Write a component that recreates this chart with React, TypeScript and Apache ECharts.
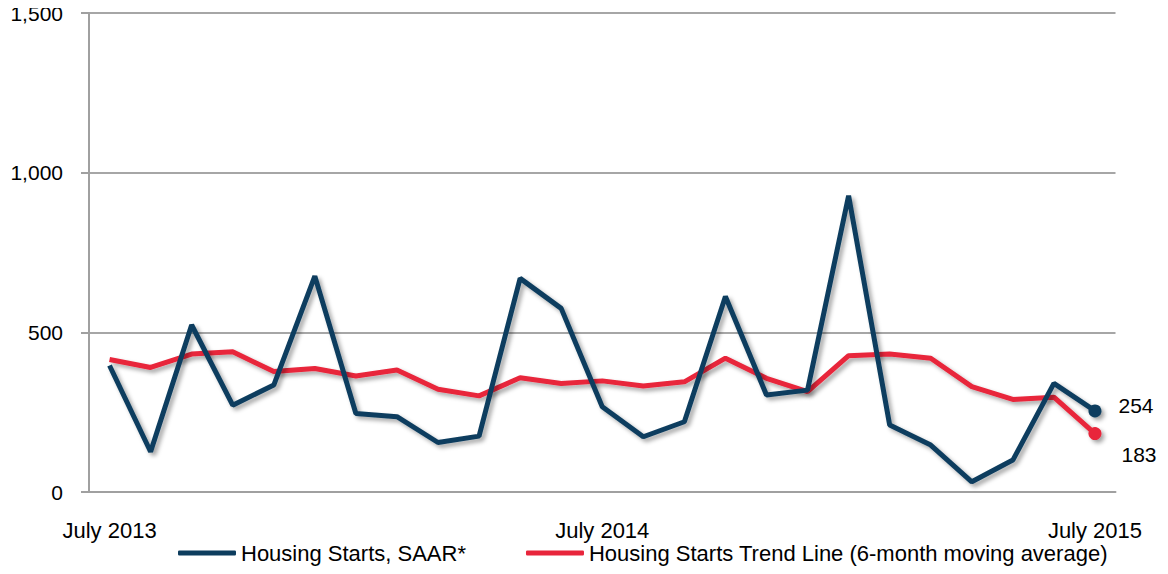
import React, { useEffect, useRef } from "react";
import * as echarts from "echarts";

const months = [
  "July 2013", "August 2013", "September 2013", "October 2013", "November 2013", "December 2013",
  "January 2014", "February 2014", "March 2014", "April 2014", "May 2014", "June 2014",
  "July 2014", "August 2014", "September 2014", "October 2014", "November 2014", "December 2014",
  "January 2015", "February 2015", "March 2015", "April 2015", "May 2015", "June 2015",
  "July 2015",
];

const housingStarts = [
  396, 126, 523, 272, 335, 676, 246, 236, 155, 175, 669, 575,
  267, 173, 220, 612, 304, 319, 928, 210, 147, 32, 100, 340, 254,
];

const trendLine = [
  415, 390, 432, 439, 377, 387, 363, 382, 322, 301, 358, 340,
  348, 332, 345, 419, 356, 314, 427, 432, 419, 330, 290, 297, 183,
];

const yTicks = [0, 500, 1000, 1500];

const BLUE = "#0D3D5E";
const RED = "#E8253B";
const FONT = "'Liberation Sans', Arial, sans-serif";

function withEndPoint(values: number[], color: string, offset: number[]) {
  return values.map((v, i) =>
    i === values.length - 1
      ? {
          value: v,
          symbol: "circle",
          symbolSize: 13,
          itemStyle: { color },
          label: {
            show: true,
            position: "right",
            distance: 17,
            offset,
            formatter: "{c}",
            color: "#000",
            fontSize: 21,
            fontFamily: FONT,
          },
        }
      : v
  );
}

export default function App() {
  const ref = useRef<HTMLDivElement>(null);

  useEffect(() => {
    if (!ref.current) return;
    const chart = echarts.init(ref.current, undefined, { renderer: "svg" });
    const shadow = {
      shadowColor: "rgba(0,0,0,0.35)",
      shadowBlur: 4,
      shadowOffsetX: 3,
      shadowOffsetY: 3,
    };
    chart.setOption({
      animation: false,
      backgroundColor: "#fff",
      textStyle: { fontFamily: FONT },
      grid: { left: 89, right: 52.5, top: 13, bottom: 82, containLabel: false },
      legend: {
        left: 173,
        top: 537,
        padding: 5,
        itemWidth: 58,
        itemHeight: 5,
        itemGap: 60,
        icon: "roundRect",
        itemStyle: { shadowBlur: 0, shadowColor: "transparent", shadowOffsetX: 0, shadowOffsetY: 0 },
        textStyle: { fontSize: 22, color: "#000", fontFamily: FONT },
        data: ["Housing Starts, SAAR*", "Housing Starts Trend Line (6-month moving average)"],
      },
      xAxis: {
        type: "category",
        data: months,
        boundaryGap: true,
        axisLine: { show: true, lineStyle: { color: "#A0A0A0", width: 2 } },
        axisTick: { show: false },
        axisLabel: {
          interval: 11,
          margin: 27,
          fontSize: 22,
          color: "#000",
          fontFamily: FONT,
        },
        splitLine: { show: false },
      },
      yAxis: {
        type: "value",
        min: yTicks[0],
        max: yTicks[yTicks.length - 1],
        interval: 500,
        axisLine: { show: true, lineStyle: { color: "#A0A0A0", width: 2 } },
        axisTick: { show: true, length: 8, inside: false, lineStyle: { color: "#A0A0A0", width: 2 } },
        axisLabel: {
          margin: 26,
          fontSize: 21,
          color: "#000",
          fontFamily: FONT,
          formatter: (v: number) => v.toLocaleString("en-US"),
        },
        splitLine: { show: true, lineStyle: { color: "#A6A6A6", width: 2 } },
      },
      series: [
        {
          name: "Housing Starts, SAAR*",
          type: "line",
          data: withEndPoint(housingStarts, BLUE, [0, -5]),
          symbol: "none",
          showSymbol: true,
          color: BLUE,
          lineStyle: { color: BLUE, width: 5, ...shadow },
          itemStyle: { color: BLUE, ...shadow },
          z: 3,
        },
        {
          name: "Housing Starts Trend Line (6-month moving average)",
          type: "line",
          data: withEndPoint(trendLine, RED, [3, 21]),
          symbol: "none",
          showSymbol: true,
          color: RED,
          lineStyle: { color: RED, width: 5, ...shadow },
          itemStyle: { color: RED, ...shadow },
          z: 2,
        },
      ],
    });
    return () => chart.dispose();
  }, []);

  return <div ref={ref} style={{ width: 1168, height: 574, margin: -8 }} />;
}
